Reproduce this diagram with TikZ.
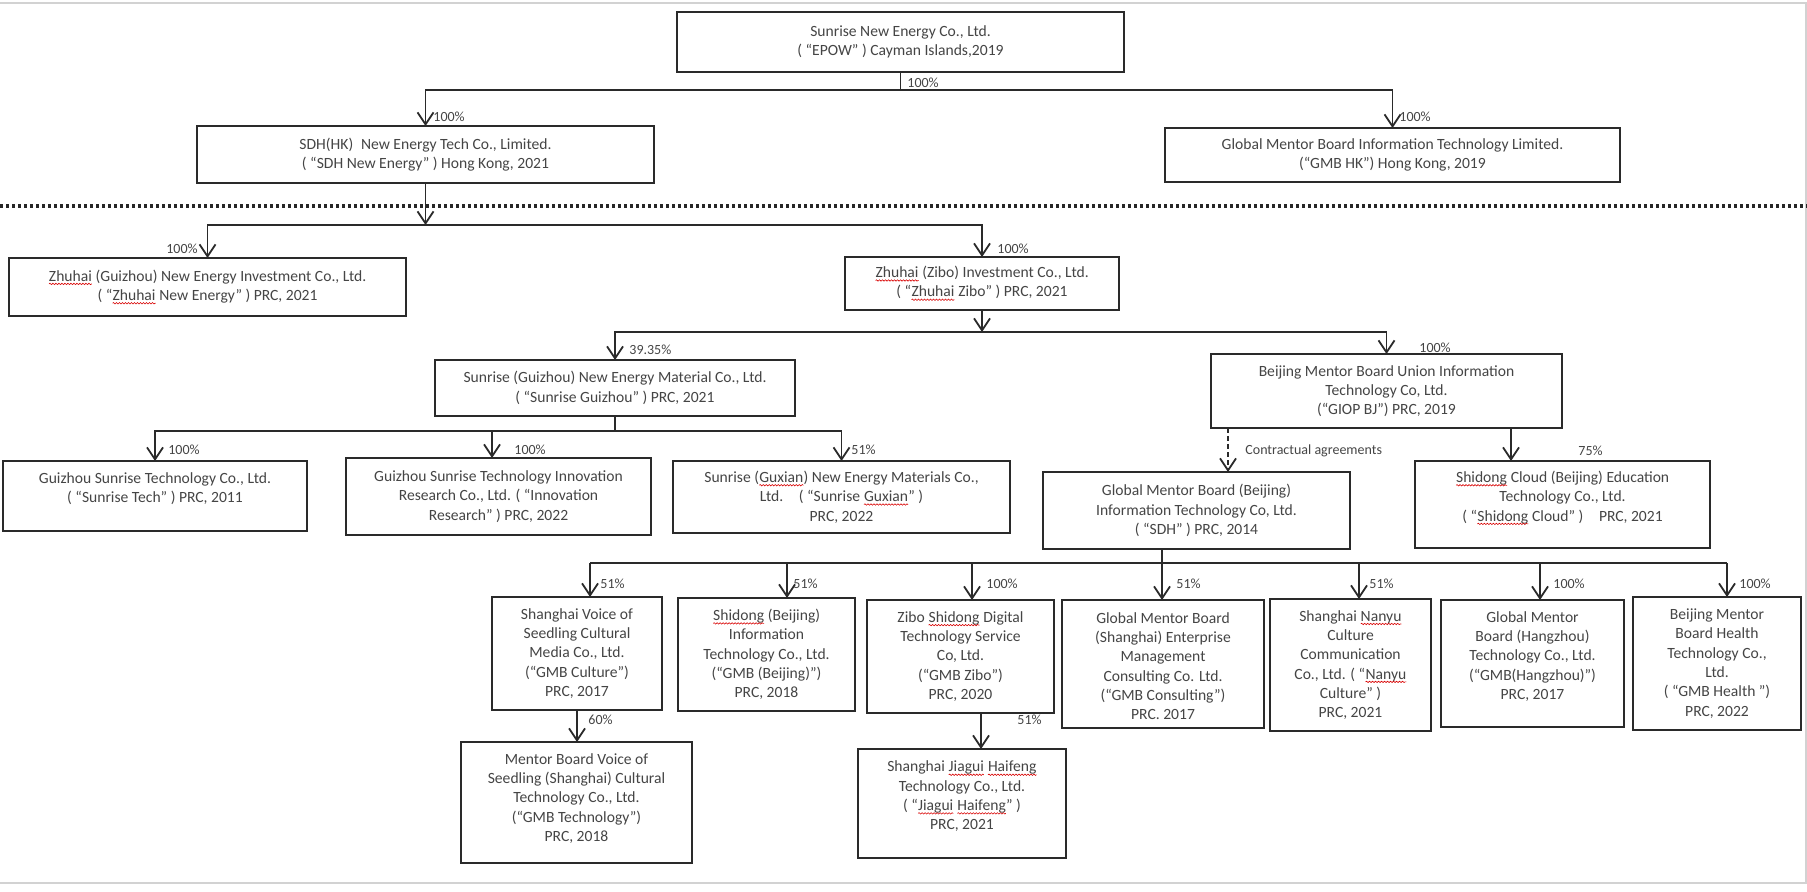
\documentclass[tikz,border=0pt]{standalone}
\usepackage{fontspec}
\setmainfont{Carlito}
\usetikzlibrary{arrows.meta,decorations.pathmorphing}
\definecolor{txtc}{HTML}{454545}
\definecolor{lnc}{HTML}{2A2A2A}
\newcommand{\sq}[1]{\tikz[baseline=(sqw.base)]{\node[inner sep=0pt, outer sep=0pt, anchor=base] (sqw) at (0,0) {#1}; \draw[red!85!black, line width=0.3pt, decorate, decoration={snake, amplitude=0.35pt, segment length=1.5pt}] ([yshift=-1.4pt]sqw.base west) -- ([yshift=-1.4pt]sqw.base east);}}
\newcommand{\BX}[7]{%
  \node[boxst, minimum width=#4*0.5pt, minimum height=#5*0.5pt] (#1) at (#2,#3) {};
  \node[txt, yshift={-(#6)*0.5pt}] (#1T) at (#1.center) {#7};}
\tikzset{
 boxst/.style={draw=lnc, line width=1.2pt, outer sep=0pt, inner sep=0pt, fill=white},
 txt/.style={align=center, text=txtc, inner sep=0pt, font=\fontsize{7.8}{9.65}\selectfont},
 lab/.style={text=txtc, inner sep=0pt, font=\fontsize{7}{8}\selectfont},
 ln/.style={draw=lnc, line width=0.9pt},
 arr/.style={ln, -{Straight Barb[length=6pt,width=8pt]}},
 dotl/.style={draw=black!85, line width=2pt, dash pattern=on 1.5pt off 1.5pt},
}
\begin{document}
\begin{tikzpicture}[x=0.5pt, y=-0.5pt]
\useasboundingbox (0,0) rectangle (1807,892);
% frame
\draw[gray!35, line width=0.6pt] (0,3) -- (1806,3) -- (1806,883) -- (0,883);
% separator
\draw[dotl] (0,206) -- (1807,206);
% boxes
\BX{epow}{900.5}{42}{447}{60}{0}{Sunrise New Energy Co., Ltd.\\( “EPOW” ) Cayman Islands,2019}
\BX{sdhhk}{425.5}{154.5}{457}{57}{0}{SDH(HK)\enspace New Energy Tech Co., Limited.\\( “SDH New Energy” ) Hong Kong, 2021}
\BX{gmbhk}{1392.5}{155}{455}{54}{0}{Global Mentor Board Information Technology Limited.\\(“GMB HK”) Hong Kong, 2019}
\BX{zhne}{207.5}{287}{397}{58}{0}{\sq{Zhuhai} (Guizhou) New Energy Investment Co., Ltd.\\( “\sq{Zhuhai} New Energy” ) PRC, 2021}
\BX{zhzb}{982}{283.5}{274}{53}{0}{\sq{Zhuhai} (Zibo) Investment Co., Ltd.\\( “\sq{Zhuhai} Zibo” ) PRC, 2021}
\BX{sgz}{615}{388}{360}{56}{0}{Sunrise (Guizhou) New Energy Material Co., Ltd.\\( “Sunrise Guizhou” ) PRC, 2021}
\BX{giop}{1386.5}{391}{351}{74}{0}{Beijing Mentor Board Union Information\\Technology Co, Ltd.\\(“GIOP BJ”) PRC, 2019}
\BX{gtech}{155}{496}{304}{70}{-7}{Guizhou Sunrise Technology Co., Ltd.\\( “Sunrise Tech” ) PRC, 2011}
\BX{innov}{498.5}{496.5}{305}{77}{0}{Guizhou Sunrise Technology Innovation\\Research Co., Ltd. ( “Innovation\\Research” ) PRC, 2022}
\BX{guxian}{841.5}{497}{337}{72}{0}{Sunrise (\sq{Guxian}) New Energy Materials Co.,\\Ltd.\quad ( “Sunrise \sq{Guxian}” )\\PRC, 2022}
\BX{sdh}{1196.5}{510.5}{307}{77}{0}{Global Mentor Board (Beijing)\\Information Technology Co, Ltd.\\( “SDH” ) PRC, 2014}
\BX{shcl}{1562.5}{504.5}{295}{87}{-6.5}{\sq{Shidong} Cloud (Beijing) Education\\Technology Co., Ltd.\\( “\sq{Shidong} Cloud” )\quad PRC, 2021}
\BX{cult}{577}{653.5}{170}{113}{0}{Shanghai Voice of\\Seedling Cultural\\Media Co., Ltd.\\(“GMB Culture”)\\PRC, 2017}
\BX{bjs}{766.5}{654.5}{177}{113}{0}{\sq{Shidong} (Beijing)\\Information\\Technology Co., Ltd.\\(“GMB (Beijing)”)\\PRC, 2018}
\BX{zibo}{960.5}{656.5}{187}{113}{0}{Zibo \sq{Shidong} Digital\\Technology Service\\Co, Ltd.\\(“GMB Zibo”)\\PRC, 2020}
\BX{cons}{1163}{664}{202}{128}{2}{Global Mentor Board\\(Shanghai) Enterprise\\Management\\Consulting Co. Ltd.\\(“GMB Consulting”)\\PRC. 2017}
\BX{nanyu}{1350.5}{665}{161}{132}{0}{Shanghai \sq{Nanyu}\\Culture\\Communication\\Co., Ltd. ( “\sq{Nanyu}\\Culture” )\\PRC, 2021}
\BX{hz}{1532.5}{663.5}{183}{127}{-7}{Global Mentor\\Board (Hangzhou)\\Technology Co., Ltd.\\(“GMB(Hangzhou)”)\\PRC, 2017}
\BX{health}{1717}{663.5}{168}{133}{0}{Beijing Mentor\\Board Health\\Technology Co.,\\Ltd.\\( “GMB Health ”)\\PRC, 2022}
\BX{mvoice}{576.5}{802.5}{231}{121}{-4}{Mentor Board Voice of\\Seedling (Shanghai) Cultural\\Technology Co., Ltd.\\(“GMB Technology”)\\PRC, 2018}
\BX{jiagui}{962}{803.5}{208}{109}{-7}{Shanghai \sq{Jiagui} \sq{Haifeng}\\Technology Co., Ltd.\\( “\sq{Jiagui} \sq{Haifeng}” )\\PRC, 2021}
% bus coordinates
\coordinate (b1) at (0,90);
\coordinate (b2) at (0,225);
\coordinate (b3) at (0,332);
\coordinate (b4) at (0,431);
\coordinate (a1) at (590,563);
\coordinate (a2) at (787,563);
\coordinate (a3) at (972,563);
\coordinate (a4) at (1162,563);
\coordinate (a5) at (1359,563);
\coordinate (a6) at (1540,563);
\coordinate (a7) at (1727,563);
\coordinate (gd) at (1228,0);
\coordinate (g75) at (1511,0);
\coordinate (zj) at (981,0);
% connectors
\draw[ln] (epow.south) -- (epow.south |- b1);
\draw[arr] (epow.south |- b1) -| (sdhhk.north);
\draw[arr] (epow.south |- b1) -| (gmbhk.north);
\draw[arr] (sdhhk.south) -- (sdhhk.south |- b2);
\draw[arr] (sdhhk.south |- b2) -| (zhne.north);
\draw[arr] (sdhhk.south |- b2) -| (zhzb.north);
\draw[arr] (zhzb.south) -- (zhzb.south |- b3);
\draw[arr] (zhzb.south |- b3) -| (sgz.north);
\draw[arr] (zhzb.south |- b3) -| (giop.north);
\draw[ln] (sgz.south) -- (sgz.south |- b4);
\draw[arr] (sgz.south |- b4) -| (gtech.north);
\draw[arr] (sgz.south |- b4) -| ([xshift=-3.25pt]innov.north);
\draw[arr] (sgz.south |- b4) -| (guxian.north);
\draw[arr, dash pattern=on 2.5pt off 1.5pt] (giop.south -| gd) -- (sdh.north -| gd);
\draw[arr] (giop.south -| g75) -- (shcl.north -| g75);
\draw[ln] (sdh.south -| a4) -- (a4);
\draw[ln] (a1) -- (a7);
\draw[arr] (a1) -- (a1 |- cult.north);
\draw[arr] (a2) -- (a2 |- bjs.north);
\draw[arr] (a3) -- (a3 |- zibo.north);
\draw[arr] (a4) -- (a4 |- cons.north);
\draw[arr] (a5) -- (a5 |- nanyu.north);
\draw[arr] (a6) -- (a6 |- hz.north);
\draw[arr] (a7) -- (a7 |- health.north);
\draw[arr] (cult.south) -- (cult.south |- mvoice.north);
\draw[arr] (zibo.south -| zj) -- (jiagui.north -| zj);
% labels
\node[lab, anchor=west] (l1) at (907,83) {100\%};
\node[lab, anchor=west] (l2) at (433,117) {100\%};
\node[lab, anchor=west] (l3) at (1399,117) {100\%};
\node[lab, anchor=east] (l4) at (198,249) {100\%};
\node[lab, anchor=west] (l5) at (997,249) {100\%};
\node[lab, anchor=west] (l6) at (629,350) {39.35\%};
\node[lab, anchor=west] (l7) at (1419,348) {100\%};
\node[lab, anchor=west] (l8) at (168,450) {100\%};
\node[lab, anchor=west] (l9) at (514,450) {100\%};
\node[lab, anchor=west] (l10) at (851,450) {51\%};
\node[lab, anchor=west] (l11) at (1245,451) {Contractual agreements};
\node[lab, anchor=west] (l12) at (1578,451) {75\%};
\node[lab, anchor=west] (l13) at (600,584) {51\%};
\node[lab, anchor=west] (l14) at (793,584) {51\%};
\node[lab, anchor=west] (l15) at (986,584) {100\%};
\node[lab, anchor=west] (l16) at (1176,584) {51\%};
\node[lab, anchor=west] (l17) at (1369,584) {51\%};
\node[lab, anchor=west] (l18) at (1553,584) {100\%};
\node[lab, anchor=west] (l19) at (1739,584) {100\%};
\node[lab, anchor=west] (l20) at (588,720) {60\%};
\node[lab, anchor=west] (l21) at (1017,720) {51\%};
\end{tikzpicture}
\end{document}
